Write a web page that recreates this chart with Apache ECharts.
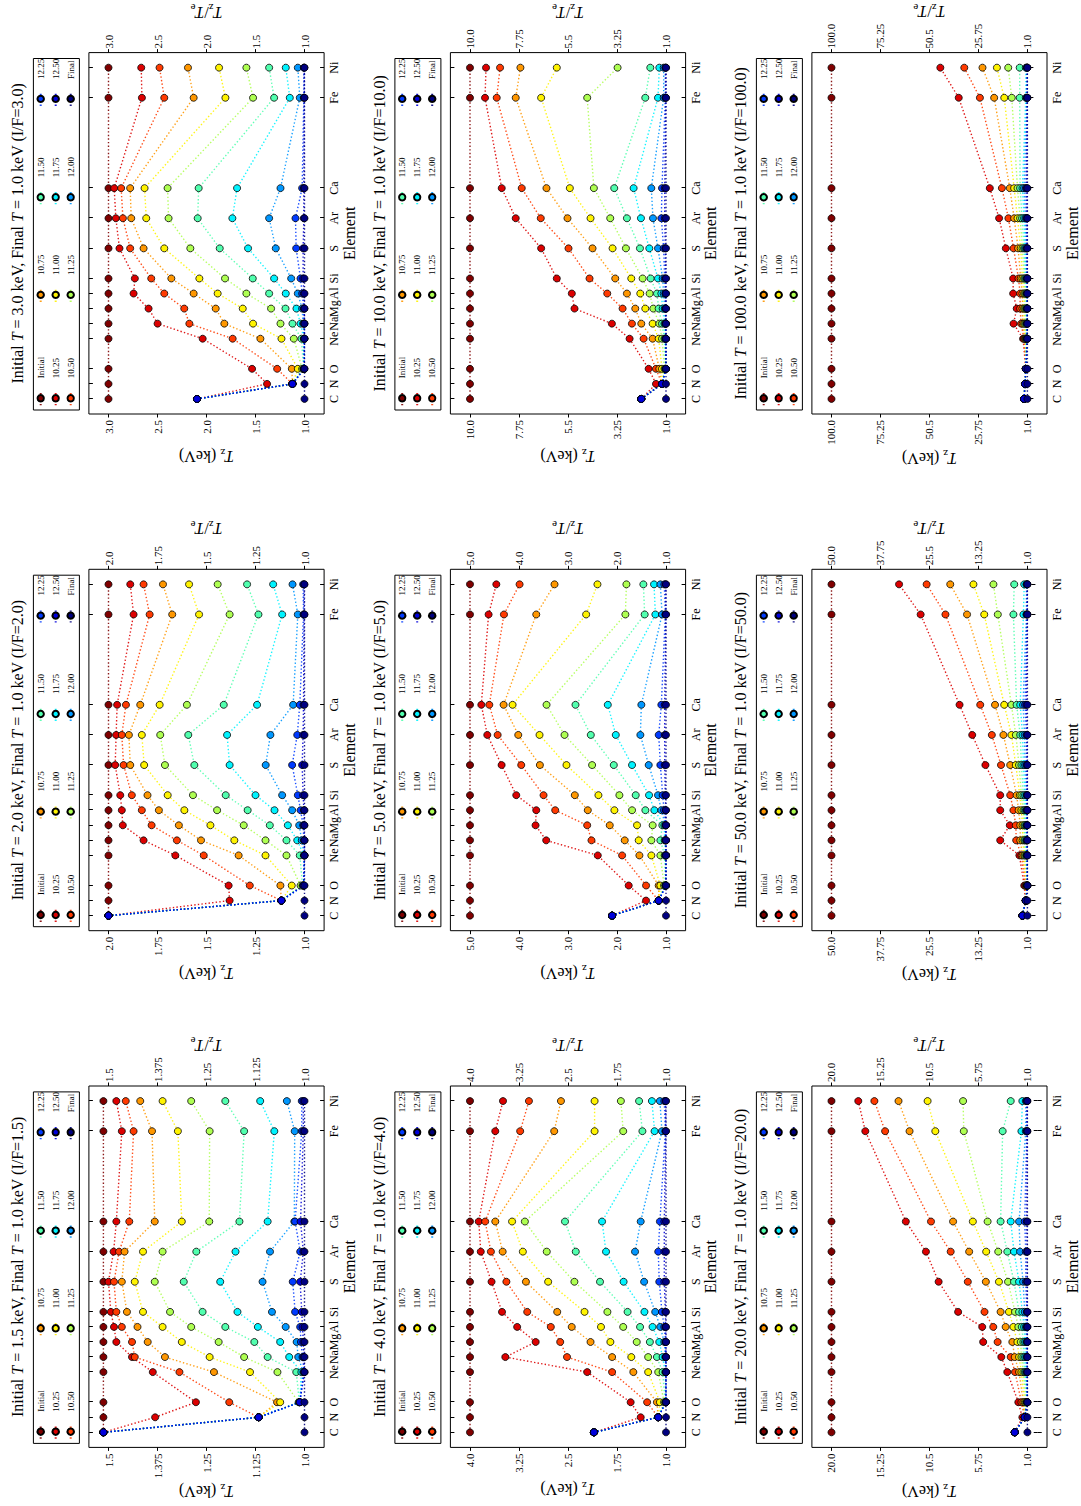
<!DOCTYPE html>
<html><head><meta charset="utf-8">
<script src="https://cdn.jsdelivr.net/npm/echarts@6.0.0/dist/echarts.min.js"></script>
<style>
html,body{margin:0;padding:0;background:#fff;width:1081px;height:1506px;overflow:hidden;}
#chart{position:absolute;left:0;top:0;width:1506px;height:1081px;transform-origin:0 0;transform:translate(0px,1506px) rotate(-90deg);background:#fff;}
</style></head><body><div id="chart"></div>
<script>
// ---------------- DATA ----------------
const elements = ['C','N','O','Ne','Na','Mg','Al','Si','S','Ar','Ca','Fe','Ni'];
const atomicNumbers = [6,7,8,10,11,12,13,14,16,18,20,26,28];
const seriesNames = ['Initial','10.25','10.50','10.75','11.00','11.25','11.50','11.75','12.00','12.25','12.50','Final'];
const initialTemps = [1.5, 2.0, 3.0, 4.0, 5.0, 10.0, 20.0, 50.0, 100.0];
const finalTemp = 1.0;

const ticks1p5 = ['1.0','1.125','1.25','1.375','1.5'];
const ticks2 = ['1.0','1.25','1.5','1.75','2.0'];
const ticks3 = ['1.0','1.5','2.0','2.5','3.0'];
const ticks4 = ['1.0','1.75','2.5','3.25','4.0'];
const ticks5 = ['1.0','2.0','3.0','4.0','5.0'];
const ticks10 = ['1.0','3.25','5.5','7.75','10.0'];
const ticks20 = ['1.0','5.75','10.5','15.25','20.0'];
const ticks50 = ['1.0','13.25','25.5','37.75','50.0'];
const ticks100 = ['1.0','25.75','50.5','75.25','100.0'];

// rows: elements (C..Ni); columns: Initial, 10.25 ... 12.50, Final (T_z in keV)
const tz1p5 = [
 [1.513,1.513,1.513,1.513,1.513,1.513,1.513,1.513,1.513,1.513,1.513,1.0],
 [1.513,1.381,1.117,1.117,1.117,1.117,1.117,1.117,1.117,1.117,1.117,1.0],
 [1.513,1.277,1.192,1.070,1.062,1.015,1.013,1.012,1.012,1.012,1.012,1.0],
 [1.513,1.387,1.319,1.231,1.139,1.069,1.021,1.008,1.003,1.001,1.0,1.0],
 [1.513,1.440,1.433,1.356,1.242,1.154,1.094,1.039,1.016,1.005,1.002,1.0],
 [1.513,1.480,1.440,1.400,1.313,1.219,1.128,1.062,1.020,1.009,1.003,1.0],
 [1.513,1.486,1.466,1.426,1.362,1.289,1.202,1.119,1.048,1.011,1.005,1.0],
 [1.513,1.494,1.480,1.453,1.412,1.343,1.260,1.171,1.083,1.024,1.007,1.0],
 [1.513,1.500,1.486,1.466,1.433,1.382,1.308,1.215,1.107,1.030,1.011,1.0],
 [1.513,1.487,1.473,1.459,1.412,1.362,1.276,1.176,1.088,1.011,1.003,1.0],
 [1.513,1.480,1.447,1.382,1.313,1.243,1.166,1.094,1.026,1.024,1.010,1.0],
 [1.513,1.466,1.436,1.389,1.323,1.242,1.154,1.077,1.025,1.007,1.003,1.0],
 [1.513,1.480,1.456,1.419,1.362,1.289,1.202,1.113,1.045,1.007,1.003,1.0]
];
const tz2 = [
 [2.0,2.0,2.0,2.0,2.0,2.0,2.0,2.0,2.0,2.0,2.0,1.0],
 [2.0,1.382,1.118,1.118,1.118,1.118,1.118,1.118,1.118,1.118,1.118,1.0],
 [2.0,1.387,1.279,1.123,1.065,1.020,1.010,1.005,1.005,1.005,1.005,1.0],
 [2.0,1.659,1.514,1.336,1.199,1.092,1.024,1.003,1.001,1.0,1.0,1.0],
 [2.0,1.821,1.651,1.528,1.358,1.199,1.092,1.037,1.014,1.003,1.0,1.0],
 [2.0,1.927,1.780,1.641,1.480,1.310,1.177,1.085,1.027,1.007,1.002,1.0],
 [2.0,1.932,1.830,1.743,1.613,1.446,1.290,1.153,1.063,1.020,1.003,1.0],
 [2.0,1.940,1.881,1.801,1.698,1.569,1.402,1.250,1.114,1.034,1.007,1.0],
 [2.0,1.966,1.923,1.889,1.818,1.712,1.562,1.382,1.198,1.063,1.012,1.0],
 [2.0,1.961,1.932,1.896,1.830,1.736,1.593,1.395,1.174,1.037,1.007,1.0],
 [2.0,1.956,1.911,1.838,1.739,1.600,1.412,1.242,1.058,1.024,1.005,1.0],
 [2.0,1.872,1.790,1.675,1.538,1.382,1.235,1.114,1.034,1.005,1.002,1.0],
 [2.0,1.889,1.821,1.722,1.589,1.443,1.293,1.160,1.061,1.007,1.002,1.0]
];
const tz3 = [
 [3.0,2.097,2.097,2.097,2.097,2.097,2.097,2.097,2.097,2.097,2.097,1.0],
 [3.0,1.382,1.123,1.123,1.123,1.123,1.123,1.123,1.123,1.123,1.123,1.0],
 [3.0,1.535,1.279,1.129,1.068,1.024,1.010,1.007,1.005,1.003,1.002,1.0],
 [3.0,2.039,1.733,1.450,1.235,1.109,1.031,1.007,1.003,1.001,1.0,1.0],
 [3.0,2.499,2.175,1.818,1.525,1.245,1.123,1.041,1.014,1.004,1.001,1.0],
 [3.0,2.591,2.227,1.906,1.630,1.341,1.194,1.082,1.024,1.007,1.002,1.0],
 [3.0,2.744,2.431,2.131,1.886,1.593,1.361,1.191,1.068,1.024,1.007,1.0],
 [3.0,2.731,2.564,2.359,2.073,1.811,1.528,1.310,1.136,1.041,1.014,1.0],
 [3.0,2.888,2.779,2.642,2.431,2.165,1.865,1.576,1.293,1.085,1.014,1.0],
 [3.0,2.925,2.853,2.768,2.615,2.387,2.090,1.736,1.361,1.092,1.007,1.0],
 [3.0,2.942,2.871,2.779,2.632,2.397,2.080,1.688,1.245,1.024,1.007,1.0],
 [3.0,2.659,2.431,2.131,1.807,1.525,1.310,1.150,1.048,1.007,1.002,1.0],
 [3.0,2.666,2.479,2.189,1.872,1.593,1.361,1.191,1.068,1.007,1.002,1.0]
];
const tz4 = [
 [4.0,2.103,2.103,2.103,2.103,2.103,2.103,2.103,2.103,2.103,2.103,1.0],
 [4.0,1.387,1.119,1.119,1.119,1.119,1.119,1.119,1.119,1.119,1.119,1.0],
 [4.0,1.541,1.289,1.139,1.093,1.030,1.012,1.005,1.003,1.002,1.001,1.0],
 [4.0,2.206,1.825,1.500,1.273,1.119,1.052,1.010,1.003,1.001,1.0,1.0],
 [4.0,3.459,2.515,1.825,1.531,1.273,1.139,1.052,1.010,1.003,1.001,1.0],
 [4.0,2.995,2.619,2.155,1.851,1.448,1.247,1.103,1.026,1.007,1.002,1.0],
 [4.0,3.278,2.763,2.443,1.995,1.655,1.397,1.206,1.088,1.026,1.005,1.0],
 [4.0,3.510,3.124,2.665,2.247,1.897,1.588,1.330,1.165,1.062,1.010,1.0],
 [4.0,3.670,3.443,3.144,2.804,2.402,2.010,1.649,1.335,1.103,1.026,1.0],
 [4.0,3.835,3.680,3.500,3.191,2.825,2.381,1.918,1.474,1.119,1.026,1.0],
 [4.0,3.866,3.768,3.613,3.356,3.160,2.546,1.979,1.387,1.093,1.026,1.0],
 [4.0,3.613,3.232,2.711,2.093,1.655,1.361,1.175,1.062,1.010,1.003,1.0],
 [4.0,3.495,3.098,2.608,2.093,1.691,1.412,1.216,1.093,1.026,1.005,1.0]
];
const tz5 = [
 [5.0,2.100,2.100,2.100,2.100,2.100,2.100,2.100,2.100,2.100,2.100,1.0],
 [5.0,1.407,1.149,1.149,1.149,1.149,1.149,1.149,1.149,1.149,1.149,1.0],
 [5.0,1.761,1.407,1.149,1.115,1.040,1.014,1.005,1.003,1.002,1.001,1.0],
 [5.0,2.392,1.896,1.543,1.299,1.115,1.027,1.010,1.003,1.001,1.0,1.0],
 [5.0,3.445,2.521,1.842,1.557,1.299,1.115,1.027,1.010,1.003,1.001,1.0],
 [5.0,3.662,2.609,2.148,1.591,1.272,1.075,1.034,1.010,1.003,1.001,1.0],
 [5.0,3.648,3.261,2.596,2.053,1.693,1.421,1.238,1.095,1.041,1.005,1.0],
 [5.0,4.056,3.499,2.861,2.379,1.951,1.618,1.346,1.163,1.068,1.014,1.0],
 [5.0,4.355,3.954,3.574,3.031,2.508,2.066,1.693,1.353,1.115,1.027,1.0],
 [5.0,4.647,4.436,4.015,3.581,3.071,2.535,2.025,1.523,1.149,1.027,1.0],
 [5.0,4.769,4.606,4.314,4.131,3.438,2.847,2.188,1.503,1.095,1.027,1.0],
 [5.0,4.620,4.307,3.648,2.630,1.829,1.435,1.217,1.081,1.014,1.003,1.0],
 [5.0,4.463,3.988,3.275,2.399,1.808,1.462,1.244,1.115,1.034,1.005,1.0]
];
const tz10 = [
 [10.0,2.135,2.135,2.135,2.135,2.135,2.135,2.135,2.135,2.135,2.135,1.0],
 [10.0,1.460,1.184,1.184,1.184,1.184,1.184,1.184,1.184,1.184,1.184,1.0],
 [10.0,1.797,1.460,1.307,1.184,1.070,1.030,1.010,1.005,1.003,1.001,1.0],
 [10.0,2.671,2.027,1.613,1.337,1.184,1.070,1.030,1.010,1.003,1.001,1.0],
 [10.0,3.484,2.564,2.135,1.613,1.307,1.184,1.070,1.030,1.010,1.003,1.0],
 [10.0,5.201,2.993,2.411,1.951,1.583,1.337,1.153,1.061,1.020,1.005,1.0],
 [10.0,5.324,3.698,2.794,2.181,1.751,1.414,1.215,1.107,1.031,1.005,1.0],
 [10.0,6.014,4.511,3.331,2.595,2.073,1.705,1.368,1.153,1.061,1.010,1.0],
 [10.0,6.734,5.477,4.373,3.453,2.840,2.196,1.767,1.368,1.107,1.031,1.0],
 [10.0,7.900,6.750,5.523,4.465,3.560,2.794,2.150,1.598,1.215,1.061,1.0],
 [10.0,8.543,7.624,6.489,5.416,4.312,3.377,2.487,1.675,1.184,1.061,1.0],
 [10.0,9.310,8.773,7.900,6.734,4.618,1.951,1.368,1.107,1.031,1.005,1.0],
 [10.0,9.264,8.620,7.685,6.014,3.223,1.721,1.307,1.107,1.031,1.005,1.0]
];
const tz20 = [
 [20.0,2.23,2.23,2.23,2.23,2.23,2.23,2.23,2.23,2.23,2.23,1.0],
 [20.0,1.49,1.26,1.26,1.26,1.26,1.26,1.26,1.26,1.26,1.26,1.0],
 [20.0,1.88,1.58,1.39,1.26,1.16,1.06,1.03,1.01,1.005,1.002,1.0],
 [20.0,2.95,2.20,1.81,1.58,1.39,1.26,1.16,1.06,1.02,1.005,1.0],
 [20.0,3.53,2.62,2.23,1.81,1.58,1.39,1.23,1.10,1.03,1.005,1.0],
 [20.0,5.29,3.89,2.46,1.97,1.65,1.39,1.23,1.10,1.03,1.005,1.0],
 [20.0,5.38,4.31,3.11,2.36,1.88,1.55,1.32,1.16,1.06,1.01,1.0],
 [20.0,7.72,5.16,3.60,2.79,2.20,1.81,1.49,1.26,1.06,1.01,1.0],
 [20.0,9.61,6.78,5.03,3.76,2.88,2.30,1.81,1.42,1.16,1.03,1.0],
 [20.0,10.84,8.44,6.65,5.00,3.83,2.95,2.30,1.71,1.16,1.03,1.0],
 [20.0,12.79,10.35,8.21,6.29,4.86,3.60,2.62,1.81,1.26,1.06,1.0],
 [20.0,16.72,14.80,12.43,9.93,7.17,3.40,1.58,1.16,1.06,1.02,1.0],
 [20.0,17.40,15.84,13.50,10.68,7.24,2.62,1.49,1.16,1.06,1.02,1.0]
];
const tz50 = [
 [50.0,2.24,2.24,2.24,2.24,2.24,2.24,2.24,2.24,2.24,2.24,1.0],
 [50.0,1.5,1.4,1.4,1.4,1.4,1.4,1.4,1.4,1.4,1.4,1.0],
 [50.0,1.8,1.5,1.3,1.2,1.1,1.05,1.02,1.01,1.0,1.0,1.0],
 [50.0,3.0,2.5,2.2,1.8,1.6,1.3,1.2,1.1,1.05,1.02,1.0],
 [50.0,7.8,3.8,2.8,2.2,1.8,1.6,1.3,1.2,1.1,1.02,1.0],
 [50.0,5.4,3.9,2.8,2.2,1.8,1.6,1.3,1.2,1.1,1.02,1.0],
 [50.0,7.8,4.5,3.2,2.5,2.0,1.7,1.4,1.2,1.1,1.02,1.0],
 [50.0,7.8,5.3,3.7,2.9,2.5,2.0,1.6,1.25,1.1,1.02,1.0],
 [50.0,11.5,7.6,5.3,3.9,3.1,2.5,2.0,1.6,1.25,1.05,1.0],
 [50.0,14.8,9.9,7.0,5.0,3.9,2.8,2.2,1.7,1.25,1.05,1.0],
 [50.0,17.97,12.8,9.1,6.8,5.0,3.7,2.8,2.1,1.6,1.25,1.0],
 [50.0,27.7,21.5,16.1,11.8,8.4,4.5,2.0,1.25,1.1,1.02,1.0],
 [50.0,33.1,26.2,20.3,14.5,9.5,4.3,1.8,1.25,1.1,1.02,1.0]
];
const tz100 = [
 [100.0,2.7,2.7,2.7,2.7,2.7,2.7,2.7,2.7,2.7,2.7,1.0],
 [100.0,2.2,2.2,2.2,2.2,2.2,2.2,2.2,2.2,2.2,2.2,1.0],
 [100.0,1.8,1.8,1.8,1.8,1.8,1.8,1.8,1.8,1.8,1.8,1.0],
 [100.0,3.2,2.7,2.2,1.9,1.7,1.5,1.3,1.2,1.1,1.05,1.0],
 [100.0,8.0,4.2,3.4,2.7,2.2,1.7,1.3,1.2,1.1,1.05,1.0],
 [100.0,6.4,4.7,3.5,2.7,2.2,1.7,1.3,1.2,1.1,1.05,1.0],
 [100.0,8.2,4.7,3.5,2.7,2.2,1.7,1.3,1.2,1.1,1.05,1.0],
 [100.0,8.2,5.5,4.4,3.5,2.7,2.2,1.7,1.3,1.1,1.05,1.0],
 [100.0,11.9,8.0,5.7,4.4,3.5,2.7,2.2,1.7,1.3,1.1,1.0],
 [100.0,15.3,10.6,7.7,6.0,4.7,3.7,2.7,2.0,1.5,1.1,1.0],
 [100.0,20.0,13.9,9.9,7.7,6.0,4.7,3.5,2.7,1.8,1.3,1.0],
 [100.0,35.7,25.0,17.8,12.7,8.9,4.9,1.8,1.3,1.1,1.05,1.0],
 [100.0,45.0,32.9,23.7,16.4,10.7,4.9,1.8,1.3,1.1,1.05,1.0]
];

const panelTicks = [ticks1p5, ticks2, ticks3, ticks4, ticks5, ticks10, ticks20, ticks50, ticks100];
const panelData = [tz1p5, tz2, tz3, tz4, tz5, tz10, tz20, tz50, tz100];

// ---------------- BUILD ----------------
const FONT = "'Liberation Serif','DejaVu Serif','Times New Roman',serif";
function jet(x){
  const c = v => Math.max(0, Math.min(1, v));
  const r = c(Math.min(4*x-1.5, -4*x+4.5));
  const g = c(Math.min(4*x-0.5, -4*x+3.5));
  const b = c(Math.min(4*x+0.5, -4*x+2.5));
  return 'rgb(' + Math.round(r*255) + ',' + Math.round(g*255) + ',' + Math.round(b*255) + ')';
}
const colors = seriesNames.map((_, i) => jet(1 - i/(seriesNames.length-1)));

const GRID_W = 361.4, GRID_H = 235.2;
const colLeft = c => 58.6 + 516.7*c;
const rowTop = r => 88.9 + 361.5*r;
const legendColX = [14.7, 118.1, 215.7, 314.1];

const nameRich = {
  i: {fontStyle:'italic', fontSize:16, fontFamily:FONT, color:'#000'},
  s: {fontSize:11, fontFamily:FONT, color:'#000', padding:[8,0,0,0]},
  n: {fontSize:16, fontFamily:FONT, color:'#000'}
};

const option = {
  animation:false,
  backgroundColor:'#fff',
  textStyle:{fontFamily:FONT},
  title:[], grid:[], xAxis:[], yAxis:[], series:[], legend:[],
  graphic:{elements:[]}
};

initialTemps.forEach((T, p) => {
  const r = Math.floor(p/3), c = p % 3;
  const L = colLeft(c), Tp = rowTop(r);
  const span = T - finalTemp;
  const ymin = finalTemp - 0.1*span, ymax = T + 0.1*span;
  const labels = panelTicks[p];
  const vals = labels.map(Number);
  const fmt = v => { let k = 0, best = 1e9; vals.forEach((u, j) => { const d = Math.abs(u - v); if (d < best) { best = d; k = j; } }); return labels[k]; };
  const data = panelData[p];

  option.title.push({
    text: 'Initial {i|T} = ' + T.toFixed(1) + ' keV, Final {i|T} = ' + finalTemp.toFixed(1) + ' keV (I/F=' + (T/finalTemp).toFixed(1) + ')',
    left: L + GRID_W/2, top: Tp - 79, textAlign:'center', padding:0,
    textStyle:{fontSize:16, fontWeight:'normal', color:'#000', fontFamily:FONT,
      rich:{i:{fontStyle:'italic', fontSize:16, fontFamily:FONT, color:'#000'}}}
  });
  option.grid.push({left:L, top:Tp, width:GRID_W, height:GRID_H, show:true, borderColor:'#000', borderWidth:1, backgroundColor:'transparent'});

  option.xAxis.push({
    gridIndex:p, type:'value', position:'bottom', min:5, max:29,
    axisLine:{show:false}, splitLine:{show:false},
    axisTick:{show:true, inside:true, length:4, customValues:atomicNumbers, lineStyle:{color:'#000'}},
    axisLabel:{customValues:atomicNumbers, formatter: v => elements[atomicNumbers.indexOf(Math.round(v))] || '', margin:4, fontSize:12, color:'#000', fontFamily:FONT},
    name:'Element', nameLocation:'middle', nameGap:17,
    nameTextStyle:{fontSize:16, color:'#000', fontFamily:FONT}
  });
  option.xAxis.push({
    gridIndex:p, type:'value', position:'top', min:5, max:29,
    axisLine:{show:false}, splitLine:{show:false},
    axisTick:{show:true, inside:true, length:4, customValues:atomicNumbers, lineStyle:{color:'#000'}},
    axisLabel:{show:false}
  });
  option.yAxis.push({
    gridIndex:p, type:'value', position:'left', min:ymin, max:ymax,
    axisLine:{show:false}, splitLine:{show:false},
    axisTick:{show:true, inside:false, length:3.5, customValues:vals, lineStyle:{color:'#000'}},
    axisLabel:{customValues:vals, formatter:fmt, margin:6, fontSize:11, color:'#000', fontFamily:FONT},
    name:'{i|T}{s|z} (keV)', nameLocation:'middle', nameRotate:90, nameGap:33,
    nameTextStyle:{fontSize:16, color:'#000', fontFamily:FONT, rich:nameRich}
  });
  option.yAxis.push({
    gridIndex:p, type:'value', position:'right', min:ymin, max:ymax,
    axisLine:{show:false}, splitLine:{show:false},
    axisTick:{show:true, inside:false, length:3.5, customValues:vals, lineStyle:{color:'#000'}},
    axisLabel:{customValues:vals, formatter:fmt, margin:4, fontSize:11, color:'#000', fontFamily:FONT},
    name:'{i|T}{s|z}{n|/}{i|T}{s|e}', nameLocation:'middle', nameRotate:90, nameGap:31,
    nameTextStyle:{fontSize:16, color:'#000', fontFamily:FONT, rich:nameRich}
  });

  seriesNames.forEach((nm, i) => {
    option.series.push({
      type:'line', name:nm, xAxisIndex:2*p, yAxisIndex:2*p,
      data: atomicNumbers.map((z, k) => [z, data[k][i]]),
      symbol:'circle', symbolSize:7, showSymbol:true, silent:true,
      itemStyle:{color:colors[i], borderColor:'#000', borderWidth:0.8},
      lineStyle:{color:colors[i], width:1.4, type:[1.4, 2.2], opacity:0.9},
      emphasis:{disabled:true}
    });
  });

  option.graphic.elements.push({
    type:'rect', z:0, silent:true,
    shape:{x:L+4, y:Tp-55.5, width:351.5, height:46},
    style:{fill:'#fff', stroke:'#000', lineWidth:1}
  });
  for (let j = 0; j < 4; j++) {
    option.legend.push({
      orient:'vertical', left:L + legendColX[j] - 7, top:Tp - 53.2, padding:0,
      itemWidth:14, itemHeight:8, itemGap:5, selectedMode:false, z:5,
      data: seriesNames.slice(3*j, 3*j+3),
      textStyle:{fontSize:9, lineHeight:10, fontFamily:FONT, color:'#000', padding:[0,0,0,8]}
    });
  }
});

const chart = echarts.init(document.getElementById('chart'), null, {renderer:'svg', width:1506, height:1081});
chart.setOption(option);
</script>
</body></html>
